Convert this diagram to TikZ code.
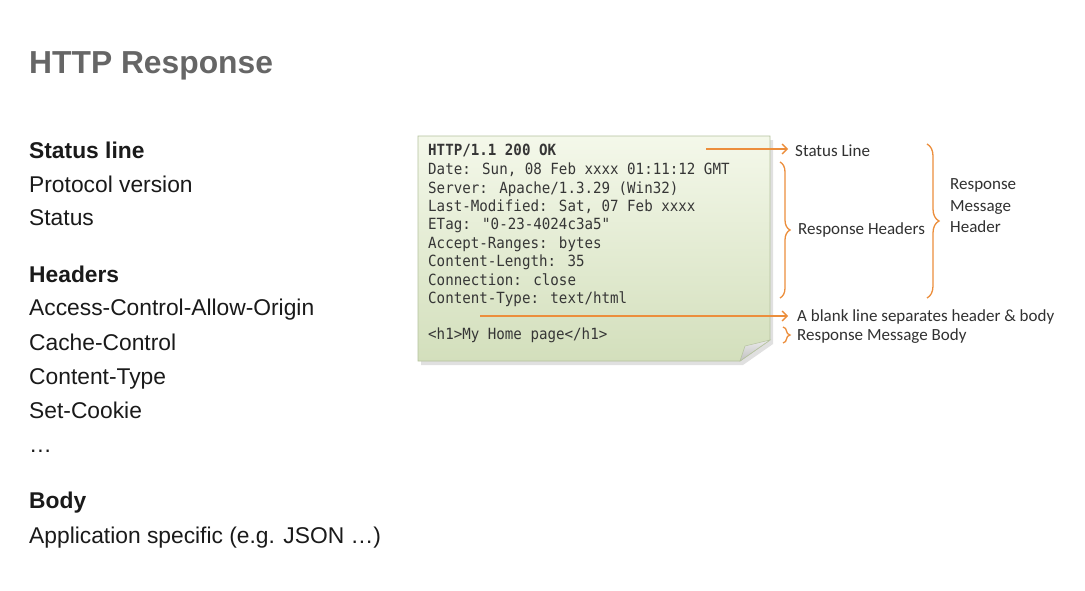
\documentclass[tikz,border=0pt]{standalone}
\usepackage{fontspec}
\setmainfont{Liberation Sans}
\newfontfamily\calib{Carlito}
\newfontfamily\monof[FakeStretch=0.92]{DejaVu Sans Mono}
\usetikzlibrary{arrows.meta,decorations.pathreplacing,shadows}
\definecolor{orng}{HTML}{EC8E3C}
\definecolor{titlegray}{HTML}{666666}
\definecolor{txt}{HTML}{1A1A1A}
\definecolor{notetop}{HTML}{F4F8EA}
\definecolor{notebot}{HTML}{D3DFBC}
\definecolor{noteedge}{HTML}{B5C29E}
\definecolor{monotxt}{HTML}{363636}
\tikzset{
  lefttxt/.style={anchor=base west,inner sep=0pt,font=\fontsize{22.8}{26}\selectfont,text=txt},
  leftbold/.style={lefttxt,font=\fontsize{22.8}{26}\selectfont\bfseries},
  codetxt/.style={anchor=base west,inner sep=0pt,font=\monof\fontsize{15.4}{18}\selectfont,text=monotxt},
  lbl/.style={anchor=base west,inner sep=0pt,font=\calib\fontsize{17}{20}\selectfont,text=txt!90},
  orarrow/.style={draw=orng,line width=1.3pt,-{Straight Barb[length=5pt,width=10pt,line width=1.3pt]}},
  orbrace/.style={draw=orng,line width=1.3pt,decorate,decoration={brace,amplitude=#1}},
}
\begin{document}
\begin{tikzpicture}[x=1pt,y=-1pt]
\useasboundingbox (0,0) rectangle (1085,590);
\fill[white] (0,0) rectangle (1085,590);

% title
\node[anchor=base west,inner sep=0pt,font=\fontsize{31.8}{36}\selectfont\bfseries,text=titlegray] (title) at (29,73) {HTTP Response};

% left list
\node[leftbold] (sl) at (29,158) {Status line};
\node[lefttxt] (pv) at (29,192) {Protocol version};
\node[lefttxt] (st) at (29,225) {Status};
\node[leftbold] (hd) at (29,282) {Headers};
\node[lefttxt] (h1) at (29,315) {Access-Control-Allow-Origin};
\node[lefttxt] (h2) at (29,350) {Cache-Control};
\node[lefttxt] (h3) at (29,384) {Content-Type};
\node[lefttxt] (h4) at (29,418) {Set-Cookie};
\node[lefttxt] (h5) at (29,452) {\dots};
\node[leftbold] (bd) at (29,508) {Body};
\node[lefttxt] (ap) at (29,543) {Application specific (e.g. JSON \dots)};

% note shadow
\fill[black!12] (421,140) -- (773,140) -- (773,344) -- (743,365) -- (421,365) -- cycle;
% note
\shade[top color=notetop,bottom color=notebot,draw=noteedge,line width=0.8pt]
  (418,136) -- (770,136) -- (770,340) -- (740,361) -- (418,361) -- cycle;
\shade[top color=black!8,bottom color=black!25,draw=noteedge,line width=0.5pt]
  (770,340) -- (740,361) -- (745,346) -- cycle;

% code lines
\node[codetxt,font=\monof\fontsize{15.4}{18}\selectfont\bfseries] (c0) at (428,155) {HTTP/1.1 200 OK};
\node[codetxt] (c1) at (428,174) {Date: Sun, 08 Feb xxxx 01:11:12 GMT};
\node[codetxt] (c2) at (428,193) {Server: Apache/1.3.29 (Win32)};
\node[codetxt] (c3) at (428,211) {Last-Modified: Sat, 07 Feb xxxx};
\node[codetxt] (c4) at (428,229) {ETag: "0-23-4024c3a5"};
\node[codetxt] (c5) at (428,248) {Accept-Ranges: bytes};
\node[codetxt] (c6) at (428,266) {Content-Length: 35};
\node[codetxt] (c7) at (428,285) {Connection: close};
\node[codetxt] (c8) at (428,303) {Content-Type: text/html};
\node[codetxt] (c9) at (428,339) {<h1>My Home page</h1>};

% labels
\node[lbl] (lstatus) at (795,156) {Status Line};
\node[lbl] (lhead) at (798,234) {Response Headers};
\node[lbl] (lblank) at (797,321) {A blank line separates header \& body};
\node[lbl] (lbody) at (797,340) {Response Message Body};
\node[lbl] (lrm1) at (950,189) {Response};
\node[lbl] (lrm2) at (950,211) {Message};
\node[lbl] (lrm3) at (950,232) {Header};

% arrows
\coordinate (sa) at (706,149);
\coordinate (sb) at (788,149);
\draw[orarrow] (sa) -- (sb);
\coordinate (ba) at (480,316);
\coordinate (bb) at (788,316);
\draw[orarrow] (ba) -- (bb);

% braces
\coordinate (b1t) at (780,162);
\coordinate (b1b) at (780,298);
\draw[orbrace=10pt] (b1t) -- (b1b);
\coordinate (b2t) at (927,144);
\coordinate (b2b) at (927,298);
\draw[orbrace=12pt] (b2t) -- (b2b);
\coordinate (b3t) at (783,327);
\coordinate (b3b) at (783,343);
\draw[orbrace=7pt] (b3t) -- (b3b);
\end{tikzpicture}
\end{document}
